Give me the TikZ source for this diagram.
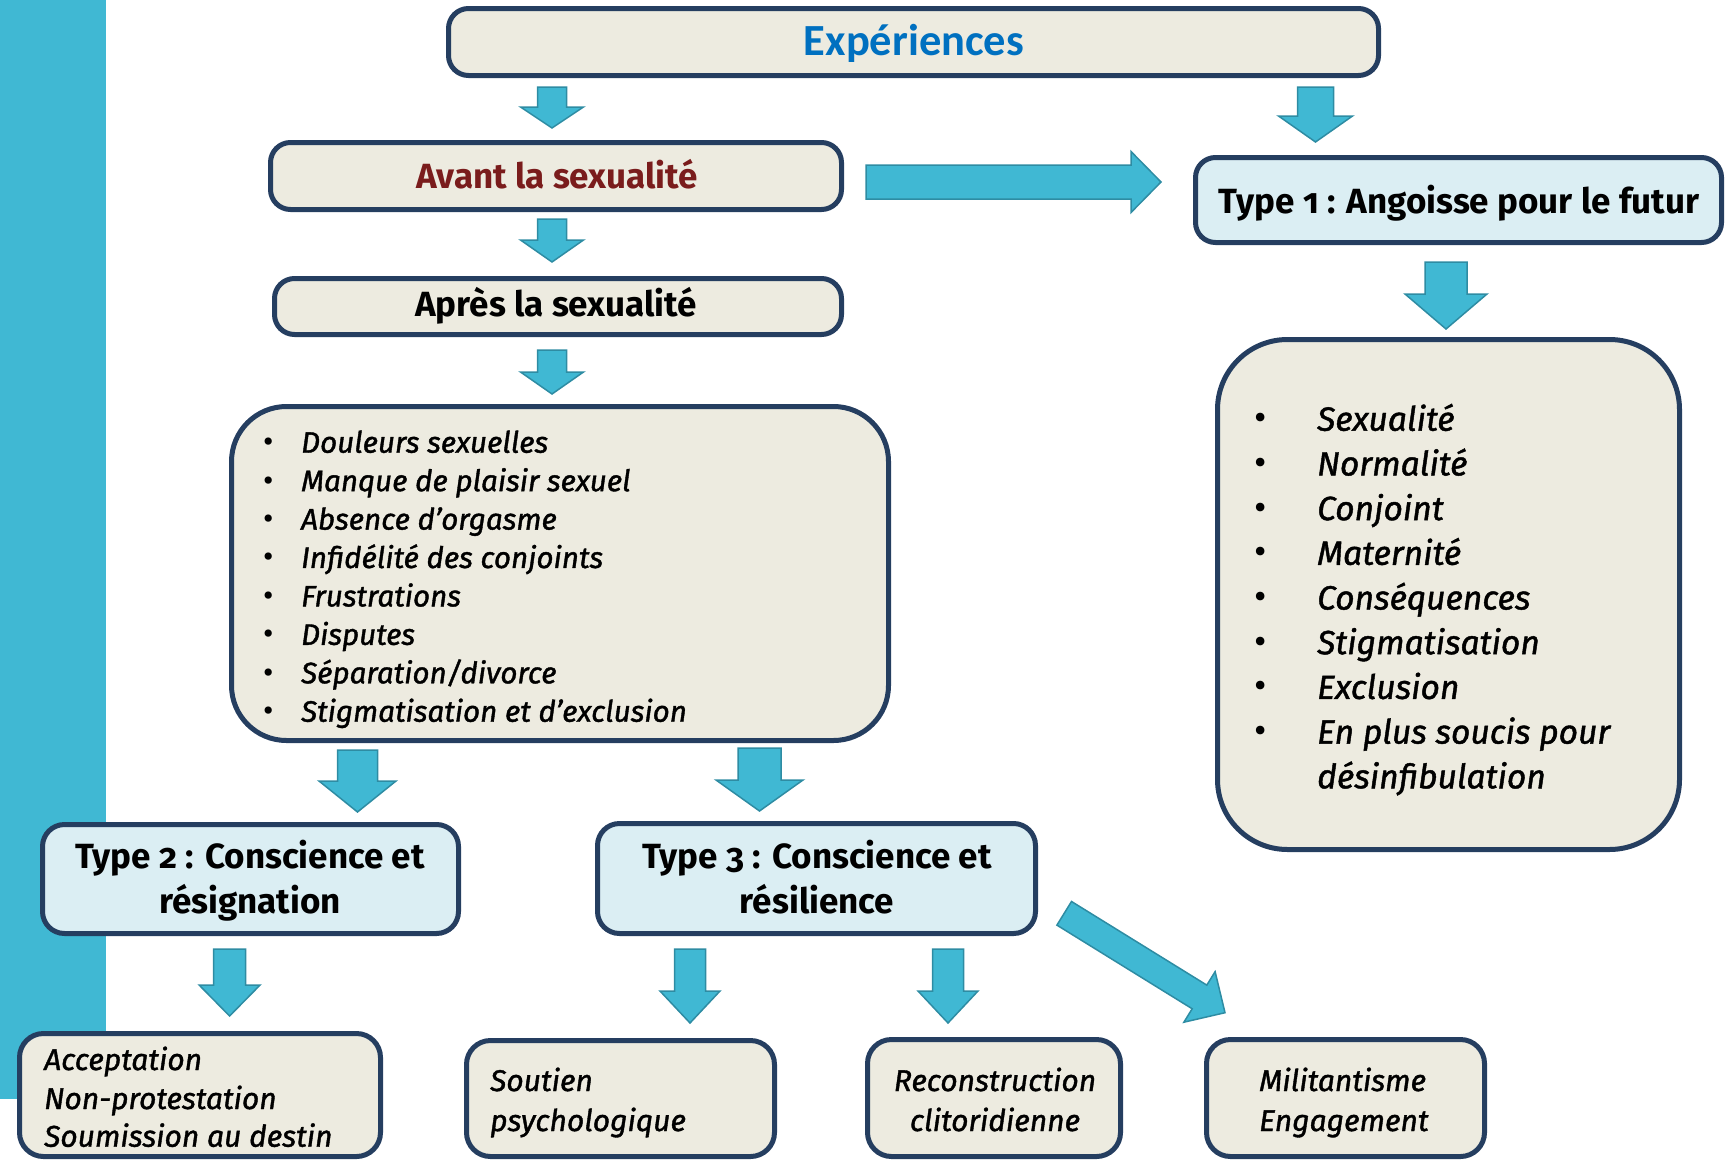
\documentclass[tikz,border=0pt]{standalone}
\usepackage{fontspec}
\setmainfont{Fira Sans}[Numbers=OldStyle, ItalicFeatures={FakeBold=1.3}]
\newfontfamily\expfont{Carlito}
\usetikzlibrary{calc}
\definecolor{barblue}{RGB}{64,184,211}
\definecolor{arrowedge}{RGB}{46,140,163}
\definecolor{navy}{RGB}{37,62,96}
\definecolor{beige}{RGB}{237,235,224}
\definecolor{paleblue}{RGB}{219,238,243}
\definecolor{darkred}{RGB}{122,28,28}
\definecolor{expblue}{RGB}{0,112,192}
\tikzset{
  box/.style={draw=navy, line width=5pt, fill=beige, rounded corners=20pt, inner sep=0pt},
  tbox/.style={box, fill=paleblue},
  blk/.style={fill=barblue, draw=arrowedge, line width=1.5pt, line join=miter},
  hdr/.style={font=\fontsize{35}{40}\selectfont\bfseries, anchor=base, inner sep=0pt},
  itemL/.style={font=\fontsize{29.6}{35}\selectfont\itshape, anchor=base west, inner sep=0pt},
  itemR/.style={font=\fontsize{33.6}{40}\selectfont\itshape, anchor=base west, inner sep=0pt},
  itemB/.style={font=\fontsize{30}{38}\selectfont\itshape, anchor=base west, inner sep=0pt},
  itemBc/.style={itemB, anchor=base},
  bulL/.style={font=\fontsize{32}{35}\selectfont, anchor=base west, inner sep=0pt},
  bulR/.style={font=\fontsize{38}{40}\selectfont, anchor=base west, inner sep=0pt},
}
\newcommand\blockarrow[5]{%
  \coordinate (ba-h) at ($(#2)!#5!(#1)$);
  \filldraw[blk] ($(#1)!#3!90:(#2)$) -- ($(ba-h)!#3!90:(#2)$) -- ($(ba-h)!#4!90:(#2)$) -- (#2)
    -- ($(ba-h)!#4!-90:(#2)$) -- ($(ba-h)!#3!-90:(#2)$) -- ($(#1)!#3!-90:(#2)$) -- cycle;
}
\begin{document}
\begin{tikzpicture}[x=1pt,y=-1pt]
\useasboundingbox (0,0) rectangle (1735,1162);
\clip (0,0) rectangle (1735,1162);
\fill[barblue] (0,0) rectangle (106,1099);

% boxes
\node[box, minimum width=930pt, minimum height=67pt] (exp) at (913.5,42) {};
\node[box, minimum width=571pt, minimum height=67pt] (avant) at (556,176) {};
\node[box, minimum width=567pt, minimum height=56pt] (apres) at (558,306.5) {};
\node[box, rounded corners=55pt, minimum width=657pt, minimum height=334pt] (list1) at (560,573.5) {};
\node[tbox, minimum width=526pt, minimum height=85pt] (type1) at (1458.5,200) {};
\node[box, rounded corners=70pt, minimum width=462pt, minimum height=510pt] (list2) at (1448.5,594.5) {};
\node[tbox, rounded corners=22pt, minimum width=416pt, minimum height=109pt] (type2) at (250.5,879) {};
\node[tbox, rounded corners=22pt, minimum width=438pt, minimum height=110pt] (type3) at (816.5,878.5) {};
\node[box, rounded corners=24pt, minimum width=361pt, minimum height=123pt] (acc) at (200,1095) {};
\node[box, rounded corners=24pt, minimum width=308pt, minimum height=116pt] (sout) at (620.5,1098.5) {};
\node[box, rounded corners=24pt, minimum width=253pt, minimum height=117pt] (recon) at (994,1098) {};
\node[box, rounded corners=24pt, minimum width=278pt, minimum height=117pt] (milit) at (1345.5,1098) {};

% texts
\node[anchor=base, inner sep=0pt, font=\expfont\fontsize{44.5}{50}\selectfont\bfseries, text=expblue] (texp) at (914,55) {Expériences};
\node[hdr, text=darkred] (tavant) at (557,188.3) {Avant la sexualité};
\node[hdr] (tapres) at (556,316) {Après la sexualité};
\node[hdr] (ttype1) at (1459,213.3) {Type 1 : Angoisse pour le futur};
\node[hdr] (ttype2a) at (250,868.3) {Type 2 : Conscience et};
\node[hdr] (ttype2b) at (250,913.3) {résignation};
\node[hdr] (ttype3a) at (817,868.3) {Type 3 : Conscience et};
\node[hdr] (ttype3b) at (817,913.3) {résilience};

\foreach \t [count=\i from 0] in {Douleurs sexuelles, Manque de plaisir sexuel, Absence d’orgasme, Infidélité des conjoints, Frustrations, Disputes, Séparation/divorce, Stigmatisation et d’exclusion}{
  \node[bulL] (bl\i) at (263,{452.7+38.43*\i}) {\textbullet};
  \node[itemL] (il\i) at (301,{452.7+38.43*\i}) {\t};
}
\foreach \t [count=\i from 0] in {Sexualité, Normalité, Conjoint, Maternité, Conséquences, Stigmatisation, Exclusion, En plus soucis pour}{
  \node[bulR] (br\i) at (1254,{430.7+44.7*\i}) {\textbullet};
  \node[itemR] (ir\i) at (1317,{430.7+44.7*\i}) {\t};
}
\node[itemR] (ir8) at (1317,788.3) {désinfibulation};

\node[itemB] (acc1) at (44,1070) {Acceptation};
\node[itemB] (acc2) at (44,1109) {Non-protestation};
\node[itemB] (acc3) at (44,1146.7) {Soumission au destin};
\node[itemB] (sout1) at (490,1091) {Soutien};
\node[itemB] (sout2) at (490,1131) {psychologique};
\node[itemBc] (recon1) at (995,1091) {Reconstruction};
\node[itemBc] (recon2) at (995,1131) {clitoridienne};
\node[itemB] (milit1) at (1259,1091) {Militantisme};
\node[itemB] (milit2) at (1259,1131) {Engagement};

% block arrows
\coordinate (a1s) at (552,87);     \coordinate (a1e) at (552,128);
\coordinate (a2s) at (552,219);    \coordinate (a2e) at (552,262);
\coordinate (a3s) at (552,350);    \coordinate (a3e) at (552,394);
\coordinate (a4s) at (1315.5,87);  \coordinate (a4e) at (1315.5,142);
\coordinate (a5s) at (866,182);    \coordinate (a5e) at (1161,182);
\coordinate (a6s) at (1446,262);   \coordinate (a6e) at (1446,329);
\coordinate (a7s) at (357.5,750);  \coordinate (a7e) at (357.5,812);
\coordinate (a8s) at (759.5,748);  \coordinate (a8e) at (759.5,811);
\coordinate (a9s) at (229.6,949);  \coordinate (a9e) at (229.6,1016);
\coordinate (a10s) at (690,949);   \coordinate (a10e) at (690,1023);
\coordinate (a11s) at (948,949);   \coordinate (a11e) at (948,1023);
\coordinate (a12s) at (1064.2,913.3); \coordinate (a12e) at (1225,1012.7);
\blockarrow{a1s}{a1e}{14.5pt}{31.5pt}{21pt}
\blockarrow{a2s}{a2e}{14.5pt}{31.5pt}{22pt}
\blockarrow{a3s}{a3e}{14.5pt}{31.5pt}{22pt}
\blockarrow{a4s}{a4e}{18pt}{37pt}{26pt}
\blockarrow{a5s}{a5e}{17pt}{30.5pt}{30pt}
\blockarrow{a6s}{a6e}{21pt}{41pt}{35pt}
\blockarrow{a7s}{a7e}{20pt}{38.5pt}{31pt}
\blockarrow{a8s}{a8e}{21.5pt}{43.5pt}{31pt}
\blockarrow{a9s}{a9e}{16pt}{30.5pt}{31pt}
\blockarrow{a10s}{a10e}{15.5pt}{30pt}{32pt}
\blockarrow{a11s}{a11e}{15.5pt}{30pt}{32pt}
\blockarrow{a12s}{a12e}{13.9pt}{29.7pt}{30pt}
\end{tikzpicture}
\end{document}
